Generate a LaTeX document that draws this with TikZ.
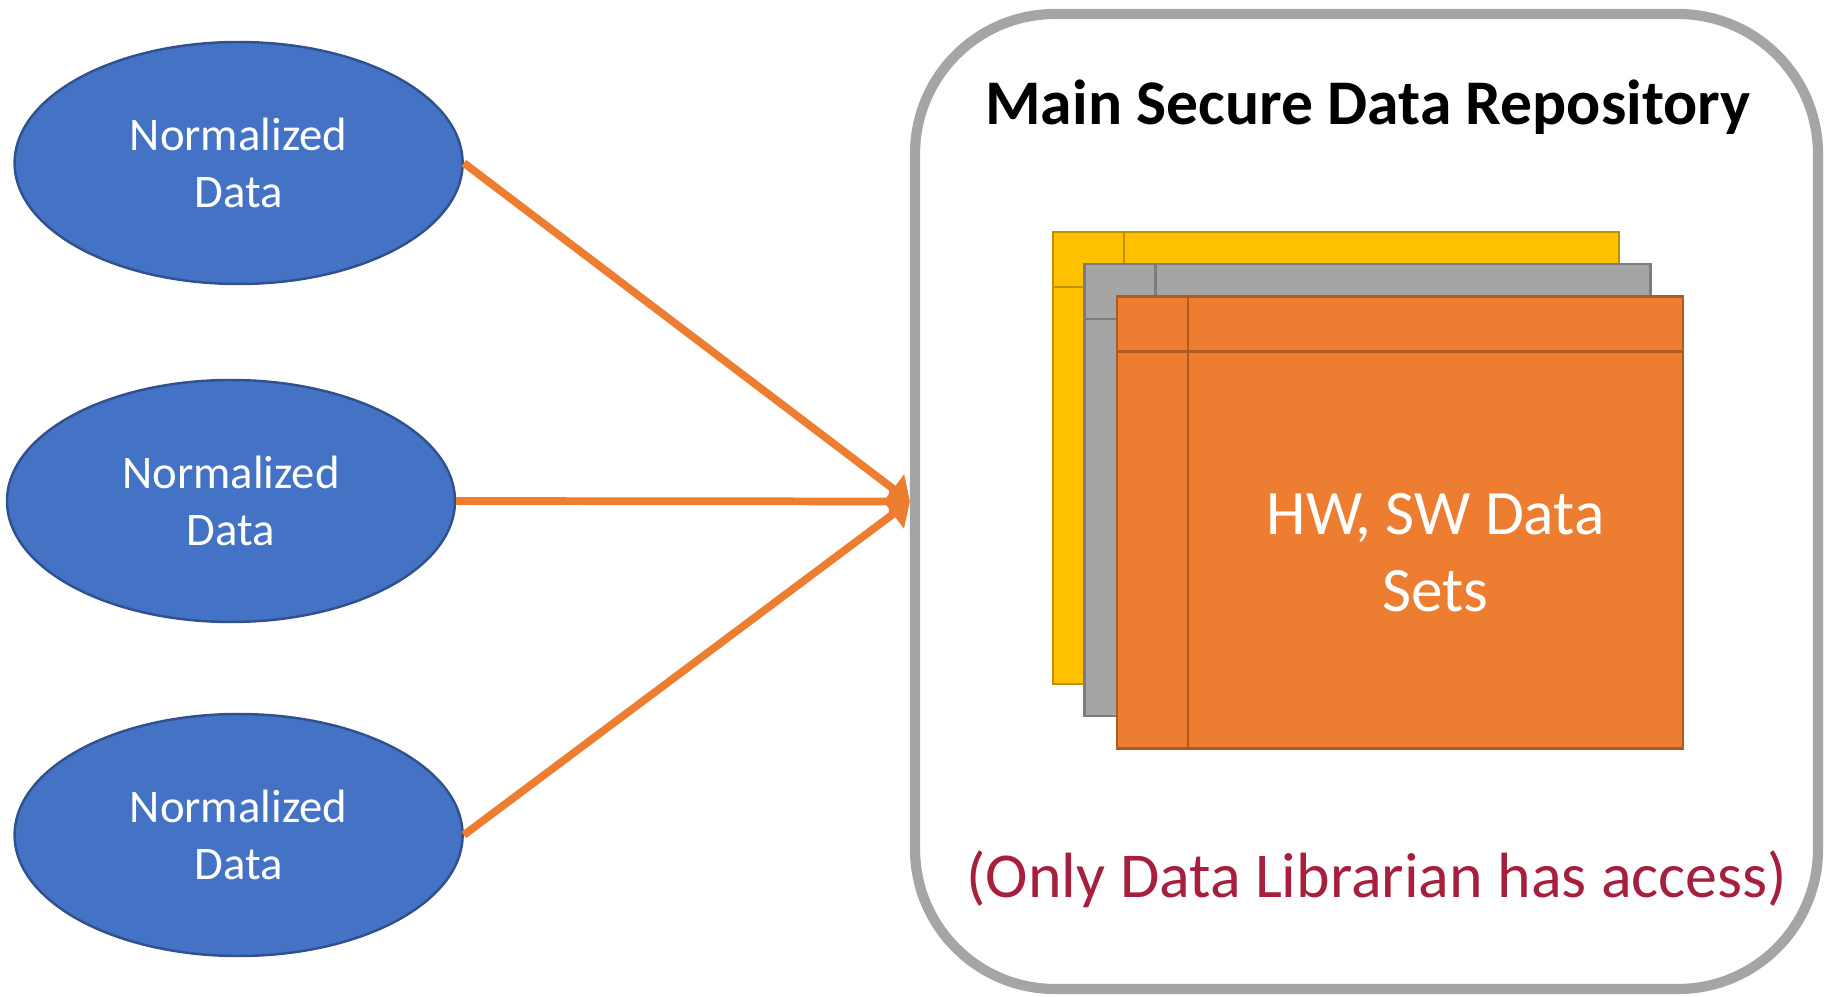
\documentclass[tikz,border=0pt]{standalone}
\usepackage{fontspec}
\setmainfont{Carlito}
\usepackage{tikz}
\usetikzlibrary{shapes.geometric, arrows.meta}

\definecolor{azul}{HTML}{4472C4}
\definecolor{azulborde}{HTML}{2F528F}
\definecolor{naranja}{HTML}{ED7D31}
\definecolor{naranjaborde}{HTML}{AE5A21}
\definecolor{amarillo}{HTML}{FFC000}
\definecolor{amarilloborde}{HTML}{BF9000}
\definecolor{gris}{HTML}{A5A5A5}
\definecolor{grisborde}{HTML}{7C7C7C}
\definecolor{granate}{RGB}{166,31,61}

\begin{document}
\begin{tikzpicture}[
    datos/.style={ellipse, draw=azulborde, line width=0.7pt, fill=azul, text=white,
      minimum width=4.48cm, minimum height=2.42cm, inner sep=0pt, align=center,
      font=\fontsize{13.3}{16.2}\selectfont},
    flecha/.style={naranja, line width=2.2pt, -{Triangle[length=6pt,width=10pt]}},
    hoja/.style={draw=#1borde, fill=#1, line width=0.7pt, outer sep=0pt,
      minimum width=5.66cm, minimum height=4.52cm, inner sep=0pt}
  ]
  \useasboundingbox (0,0) rectangle (18.25,-9.97);

  % Dibujar el repositorio
  \node[draw=gris, line width=2.9pt, rounded corners=1.4cm,
    minimum width=9.03cm, minimum height=9.75cm] (repo) at (13.665,-5.015) {};
  \node[font=\bfseries\fontsize{18.1}{22}\selectfont] (titulo) at (13.68,-1.07)
    {Main Secure Data Repository};

  % Dibujar las hojas de datos
  \foreach \c/\x/\y [count=\i] in {amarillo/13.36/-4.58, gris/13.675/-4.90, naranja/14.0/-5.225} {
    \node[hoja=\c] (hoja\i) at (\x,\y) {};
    \draw[\c borde, line width=0.7pt] ([xshift=0.71cm]hoja\i.north west) -- ([xshift=0.71cm]hoja\i.south west);
    \draw[\c borde, line width=0.7pt] ([yshift=-0.55cm]hoja\i.north west) -- ([yshift=-0.55cm]hoja\i.north east);
  }
  \node[text=white, align=center, font=\fontsize{18}{21.8}\selectfont] (texto) at (14.355,-5.53)
    {HW, SW Data\\Sets};
  \node[text=granate, font=\fontsize{18.2}{22}\selectfont] (acceso) at (13.77,-8.79)
    {(Only Data Librarian has access)};

  % Dibujar los datos normalizados
  \node[datos] (n1) at (2.386,-1.63) {Normalized\\Data};
  \node[datos] (n2) at (2.31,-5.01) {Normalized\\Data};
  \node[datos] (n3) at (2.386,-8.35) {Normalized\\Data};

  % Dibujar flechas
  \draw[flecha] (n1.east) -- (repo.west);
  \draw[flecha] (n2.east) -- (repo.west);
  \draw[flecha] (n3.east) -- (repo.west);
\end{tikzpicture}
\end{document}
